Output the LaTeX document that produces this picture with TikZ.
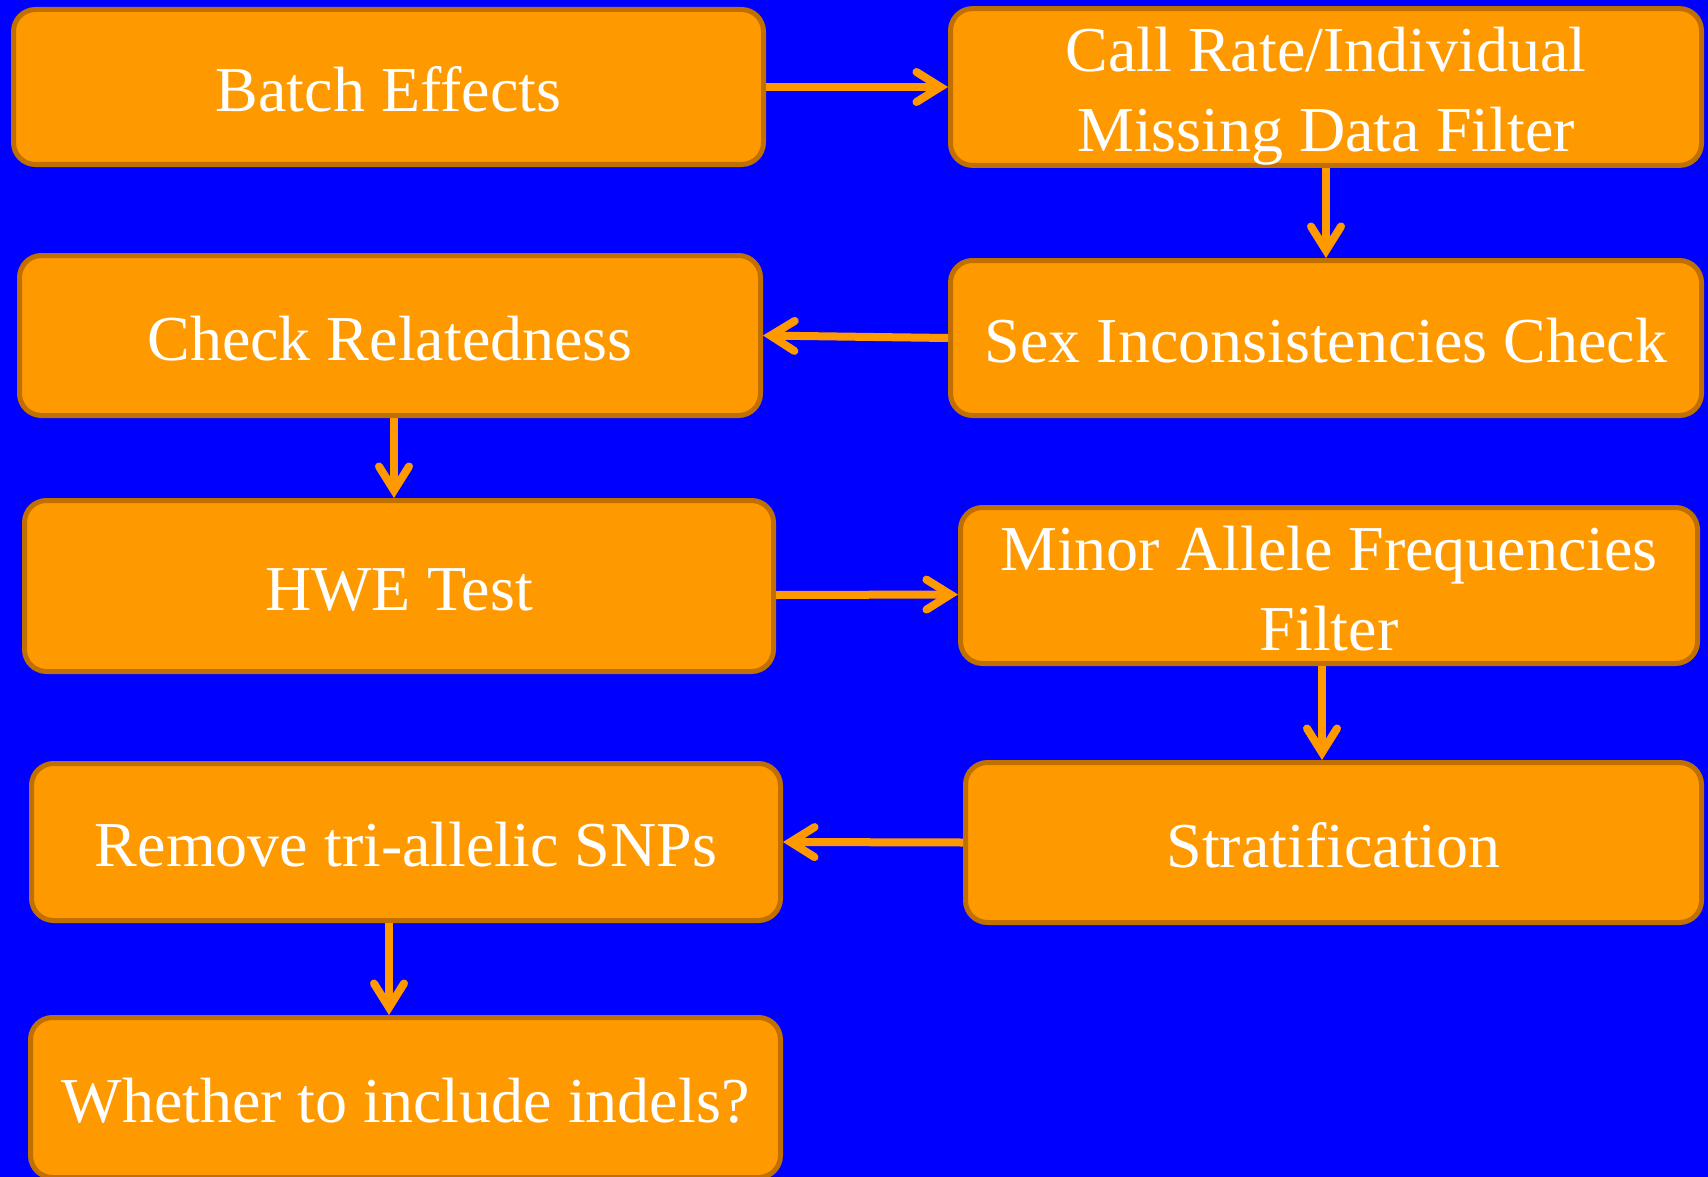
\documentclass[tikz,border=0pt]{standalone}
\usepackage{fontspec}
\setmainfont{Liberation Serif}
\usetikzlibrary{arrows.meta}
\definecolor{qcblue}{HTML}{0000FF}
\definecolor{qcfill}{HTML}{FF9900}
\definecolor{qcedge}{HTML}{C07000}
\begin{document}
\begin{tikzpicture}[x=0.5pt, y=-0.5pt,
	qclift/.style={execute at begin node={\rule{0pt}{#1}}},
	qcbox/.style={draw=qcedge, fill=qcfill, line width=2.5pt, rounded corners=11pt,
		text=white, align=center, inner sep=0pt, qclift=25pt,
		font=\fontsize{32}{40}\selectfont},
	qctwo/.style={text width=360pt, align=flush center},
	qcarrow/.style={draw=qcfill, line width=4pt,
		-{Straight Barb[length=12pt, width=15pt, line cap=round]}}]
	\fill[qcblue] (0,0) rectangle (1708,1177);
	\useasboundingbox (0,0) rectangle (1708,1177);
	\node[qcbox, minimum width=375pt, minimum height=77.5pt] (b1) at (388.5,87) {Batch Effects};
	\node[qcbox, qctwo, qclift=31.5pt, minimum width=375.5pt, minimum height=77.5pt] (b2) at (1326,87) {Call Rate/Individual\\Missing Data Filter};
	\node[qcbox, minimum width=370.5pt, minimum height=80pt] (b3) at (390,335.5) {Check Relatedness};
	\node[qcbox, minimum width=375.5pt, minimum height=77.5pt] (b4) at (1326,338) {Sex Inconsistencies Check};
	\node[qcbox, minimum width=374.5pt, minimum height=85.5pt] (b5) at (399,586) {HWE Test};
	\node[qcbox, qctwo, minimum width=368.5pt, minimum height=78pt] (b6) at (1329,585.5) {Minor Allele Frequencies\\Filter};
	\node[qcbox, minimum width=374.5pt, minimum height=78.5pt] (b7) at (406,842) {Remove tri-allelic SNPs};
	\node[qcbox, minimum width=368pt, minimum height=80pt] (b8) at (1333.5,842.5) {Stratification};
	\node[qcbox, minimum width=375pt, minimum height=80pt] (b9) at (405.5,1097.5) {Whether to include indels?};
	\draw[qcarrow] (b1.east) -- (b2.west);
	\draw[qcarrow] (b2.south) -- (b2.south |- b4.north);
	\draw[qcarrow] (b4.west) -- (b3.east);
	\draw[qcarrow] ([xshift=2pt]b3.south) -- ([xshift=2pt]b3.south |- b5.north);
	\draw[qcarrow] ([yshift=-4.5pt]b5.east) -- ([yshift=-4.5pt]b6.west);
	\draw[qcarrow] ([xshift=-3.5pt]b6.south) -- ([xshift=-3.5pt]b6.south |- b8.north);
	\draw[qcarrow] (b8.west) -- (b7.east);
	\draw[qcarrow] ([xshift=-8.5pt]b7.south) -- ([xshift=-8.5pt]b7.south |- b9.north);
\end{tikzpicture}
\end{document}
